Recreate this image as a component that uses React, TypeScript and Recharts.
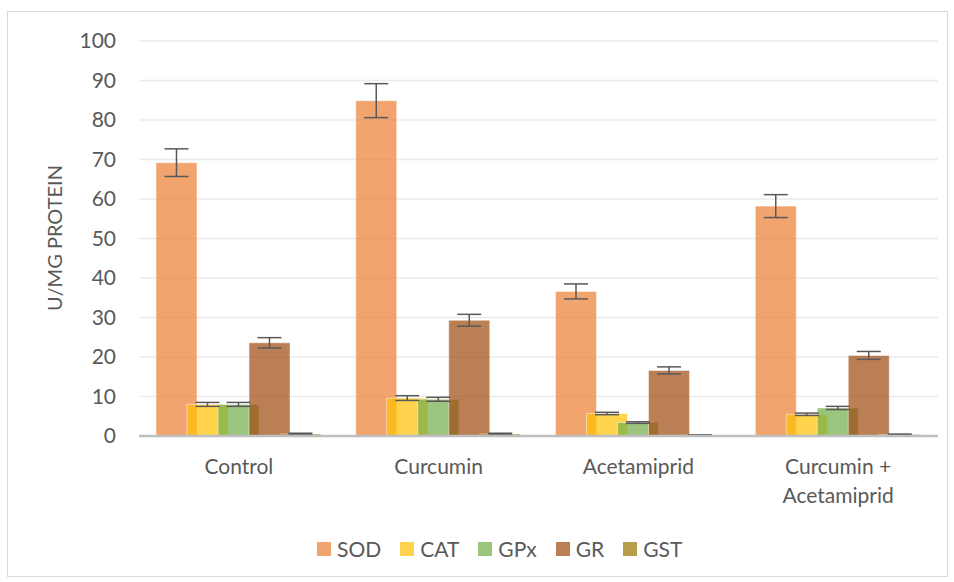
import React from 'react';
import { BarChart, Bar, XAxis, YAxis, CartesianGrid, ErrorBar, Legend } from 'recharts';

const categories = ['Control', 'Curcumin', 'Acetamiprid', 'Curcumin + Acetamiprid'];

const sod = [69.2, 84.9, 36.6, 58.2];
const sodErr = [3.5, 4.3, 1.9, 2.9];
const cat = [8.0, 9.6, 5.7, 5.5];
const catErr = [0.5, 0.6, 0.3, 0.3];
const gpx = [8.0, 9.3, 3.4, 7.1];
const gpxErr = [0.5, 0.5, 0.2, 0.4];
const gr = [23.6, 29.3, 16.6, 20.4];
const grErr = [1.3, 1.5, 0.9, 1.0];
const gst = [0.5, 0.5, 0.2, 0.4];
const gstErr = [0.2, 0.2, 0.1, 0.1];

const yTicks = [0, 10, 20, 30, 40, 50, 60, 70, 80, 90, 100];

const series = [
  { key: 'SOD', color: '#ED7D31', legend: '#F2A46F' },
  { key: 'CAT', color: '#FFC000', legend: '#FFD34D' },
  { key: 'GPx', color: '#70AD47', legend: '#9BC67E' },
  { key: 'GR', color: '#9E480E', legend: '#BB7F56' },
  { key: 'GST', color: '#997300', legend: '#B89D4D' },
];

const data = categories.map((name, i) => ({
  name,
  SOD: sod[i], SODerr: sodErr[i],
  CAT: cat[i], CATerr: catErr[i],
  GPx: gpx[i], GPxerr: gpxErr[i],
  GR: gr[i], GRerr: grErr[i],
  GST: gst[i], GSTerr: gstErr[i],
}));

const FONT = 'Lato, "Liberation Sans", sans-serif';
const TEXT = '#595959';

function CatTick(props: any) {
  const { x, y, payload } = props;
  const label: string = payload.value;
  const lines = label.includes('+') ? [label.slice(0, label.indexOf('+') + 1), label.slice(label.indexOf('+') + 1).trim()] : [label];
  return (
    <text x={x} y={y} textAnchor="middle" fill={TEXT} fontSize={21} fontFamily={FONT}>
      {lines.map((l, i) => (
        <tspan key={i} x={x} dy={i === 0 ? 30 : 29}>{l}</tspan>
      ))}
    </text>
  );
}

function LegendBox() {
  return (
    <div style={{ display: 'flex', paddingLeft: 317, fontFamily: FONT, fontSize: 21, color: TEXT }}>
      {series.map(s => (
        <div key={s.key} style={{ display: 'flex', alignItems: 'center', marginRight: 19 }}>
          <span style={{ width: 14, height: 14, background: s.legend, display: 'inline-block', marginRight: 6 }} />
          <span>{s.key}</span>
        </div>
      ))}
    </div>
  );
}

export default function App() {
  return (
    <div style={{ position: 'absolute', left: 0, top: 0, width: 954, height: 582 }}>
      <div style={{ position: 'absolute', left: 7, top: 11, width: 939, height: 564, border: '1px solid #D9D9D9' }} />
      <BarChart
        width={954}
        height={582}
        data={data}
        margin={{ top: 41, right: 16, left: 0, bottom: 116 }}
        barSize={41}
        barGap={-10}
      >
        <CartesianGrid vertical={false} stroke="#EBEBEB" strokeWidth={1.5} />
        <XAxis
          dataKey="name"
          height={30}
          axisLine={{ stroke: '#BFBFBF', strokeWidth: 2.5 }}
          tickLine={false}
          tick={CatTick}
          interval={0}
        />
        <YAxis
          width={139}
          domain={[0, 100]}
          ticks={yTicks}
          axisLine={false}
          tickLine={false}
          tickMargin={17}
          tick={{ fill: TEXT, fontSize: 21, fontFamily: FONT }}
          label={{
            content: () => (
              <text x={54} y={238} transform="rotate(-90 54 238)" textAnchor="middle" dominantBaseline="central" fill={TEXT} fontSize={20} fontFamily={FONT}>
                U/MG PROTEIN
              </text>
            ),
          }}
        />
        <Legend verticalAlign="middle" wrapperStyle={{ top: 536, left: 0, width: 954 }} content={LegendBox} />
        {series.map(s => (
          <Bar key={s.key} dataKey={s.key} fill={s.color} fillOpacity={0.7} stroke="#FFFFFF" strokeOpacity={0.5} strokeWidth={1} isAnimationActive={false}>
            <ErrorBar dataKey={s.key + 'err'} direction="y" width={12} stroke="#595959" strokeWidth={1.5} />
          </Bar>
        ))}
      </BarChart>
    </div>
  );
}
